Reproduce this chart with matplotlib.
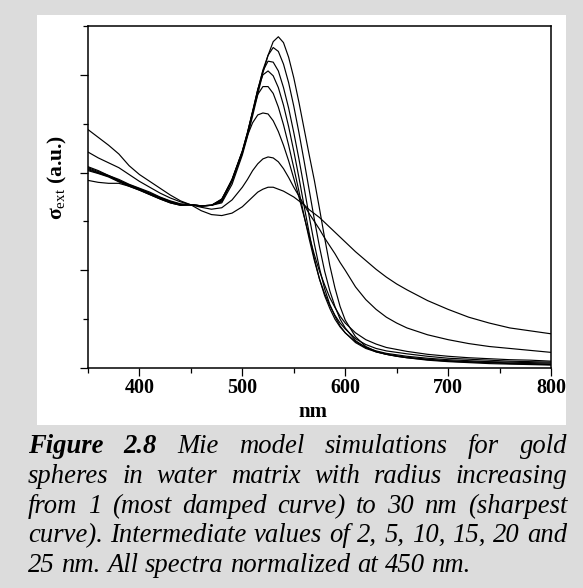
import matplotlib
matplotlib.use('Agg')
import matplotlib.pyplot as plt
from matplotlib.patches import Rectangle
from matplotlib.ticker import MultipleLocator

plt.rcParams['font.family'] = ['Liberation Serif', 'DejaVu Serif']
plt.rcParams['mathtext.fontset'] = 'custom'
plt.rcParams['mathtext.rm'] = 'Liberation Serif'
plt.rcParams['mathtext.bf'] = 'Liberation Serif:bold'
plt.rcParams['mathtext.it'] = 'Liberation Serif:italic'

# ---------------- data ----------------
wavelength = [350, 360, 370, 380, 390, 400, 410, 420, 430, 440, 450, 460, 470, 480, 490, 500,
              505, 510, 515, 520, 525, 530, 535, 540, 545, 550, 555, 560, 565, 570, 575, 580,
              585, 590, 595, 600, 610, 620, 630, 640, 650, 660, 680, 700, 720, 740, 760, 780, 800]

r1nm = [2.44, 2.36, 2.28, 2.19, 2.07, 1.98, 1.91, 1.84, 1.77, 1.71, 1.67, 1.61, 1.57, 1.56, 1.585, 1.65,
        1.70, 1.75, 1.80, 1.83, 1.85, 1.85, 1.83, 1.81, 1.78, 1.75, 1.71, 1.67, 1.62, 1.58, 1.54, 1.49,
        1.44, 1.39, 1.34, 1.29, 1.19, 1.10, 1.01, 0.93, 0.86, 0.80, 0.69, 0.60, 0.52, 0.46, 0.41, 0.38, 0.35]
r2nm = [2.21, 2.15, 2.10, 2.05, 1.98, 1.91, 1.85, 1.79, 1.74, 1.70, 1.67, 1.645, 1.625, 1.64, 1.72, 1.85,
        1.93, 2.02, 2.09, 2.14, 2.16, 2.15, 2.11, 2.04, 1.95, 1.85, 1.76, 1.67, 1.58, 1.50, 1.42, 1.33,
        1.25, 1.17, 1.08, 1.00, 0.83, 0.70, 0.60, 0.52, 0.46, 0.41, 0.34, 0.29, 0.25, 0.22, 0.20, 0.18, 0.16]
r5nm = [2.06, 2.02, 1.97, 1.93, 1.88, 1.84, 1.80, 1.75, 1.71, 1.68, 1.67, 1.655, 1.665, 1.73, 1.92, 2.21,
        2.38, 2.51, 2.59, 2.61, 2.60, 2.53, 2.42, 2.28, 2.12, 1.94, 1.75, 1.55, 1.35, 1.16, 0.99, 0.85,
        0.72, 0.62, 0.53, 0.46, 0.36, 0.29, 0.245, 0.21, 0.19, 0.17, 0.14, 0.12, 0.105, 0.095, 0.085, 0.08, 0.07]
r10nm = [2.05, 2.01, 1.97, 1.92, 1.875, 1.835, 1.79, 1.745, 1.705, 1.675, 1.67, 1.66, 1.665, 1.725, 1.93, 2.22,
         2.41, 2.62, 2.80, 2.88, 2.88, 2.81, 2.67, 2.49, 2.28, 2.05, 1.81, 1.56, 1.32, 1.10, 0.91, 0.76,
         0.64, 0.54, 0.46, 0.40, 0.30, 0.24, 0.20, 0.175, 0.16, 0.145, 0.12, 0.10, 0.09, 0.08, 0.07, 0.065, 0.06]
r15nm = [2.04, 2.00, 1.965, 1.915, 1.87, 1.83, 1.785, 1.74, 1.70, 1.67, 1.67, 1.66, 1.665, 1.72, 1.93, 2.22,
         2.41, 2.63, 2.85, 3.00, 3.04, 2.99, 2.87, 2.69, 2.47, 2.22, 1.95, 1.66, 1.38, 1.12, 0.91, 0.74,
         0.61, 0.50, 0.42, 0.36, 0.27, 0.21, 0.175, 0.15, 0.135, 0.12, 0.10, 0.085, 0.075, 0.065, 0.06, 0.055, 0.05]
r20nm = [2.03, 1.995, 1.96, 1.91, 1.865, 1.825, 1.78, 1.735, 1.695, 1.67, 1.67, 1.66, 1.665, 1.71, 1.92, 2.21,
         2.40, 2.62, 2.85, 3.04, 3.14, 3.13, 3.04, 2.87, 2.66, 2.41, 2.14, 1.85, 1.55, 1.27, 1.02, 0.81,
         0.65, 0.53, 0.43, 0.36, 0.26, 0.20, 0.165, 0.14, 0.125, 0.11, 0.09, 0.075, 0.065, 0.06, 0.05, 0.045, 0.04]
r25nm = [2.02, 1.99, 1.955, 1.905, 1.86, 1.82, 1.775, 1.73, 1.69, 1.665, 1.67, 1.66, 1.665, 1.70, 1.91, 2.20,
         2.39, 2.61, 2.84, 3.05, 3.20, 3.28, 3.24, 3.11, 2.92, 2.68, 2.41, 2.12, 1.82, 1.52, 1.24, 0.99,
         0.79, 0.63, 0.50, 0.41, 0.28, 0.21, 0.165, 0.14, 0.12, 0.105, 0.085, 0.07, 0.06, 0.055, 0.045, 0.04, 0.035]
r30nm = [1.92, 1.90, 1.89, 1.89, 1.86, 1.82, 1.775, 1.73, 1.69, 1.665, 1.67, 1.66, 1.665, 1.69, 1.88, 2.18,
         2.37, 2.58, 2.80, 3.02, 3.20, 3.34, 3.39, 3.33, 3.18, 2.97, 2.72, 2.45, 2.18, 1.92, 1.63, 1.33,
         1.05, 0.82, 0.63, 0.49, 0.32, 0.22, 0.17, 0.14, 0.12, 0.105, 0.08, 0.065, 0.055, 0.045, 0.04, 0.035, 0.03]

series = [r1nm, r2nm, r5nm, r10nm, r15nm, r20nm, r25nm, r30nm]

xlabel = 'nm'
ylabel = r'$\mathbf{\sigma}_{\mathrm{ext}}$ (a.u.)'
caption_lines = [
    [('Figure', 'bold'), ('2.8', 'bold'), ('Mie', 'normal'), ('model', 'normal'),
     ('simulations', 'normal'), ('for', 'normal'), ('gold', 'normal')],
    'spheres in water matrix with radius increasing',
    'from 1 (most damped curve) to 30 nm (sharpest',
    'curve). Intermediate values of 2, 5, 10, 15, 20 and',
    '25 nm. All spectra normalized at 450 nm.',
]

# ---------------- figure ----------------
W, H = 583, 588
fig = plt.figure(figsize=(W / 100, H / 100), dpi=100, facecolor='#dcdcdc')
fig.patches.append(Rectangle((37 / W, 1 - 425 / H), (566 - 37) / W, (425 - 15) / H,
                             transform=fig.transFigure, facecolor='white',
                             edgecolor='none', zorder=-5))

ax = fig.add_axes([88 / W, 1 - 368 / H, (551 - 88) / W, (368 - 26) / H])
ax.set_zorder(2)
ax.set_facecolor('white')
for s in series:
    ax.plot(wavelength, s, color='black', lw=0.85)

ax.set_xlim(350, 800)
ax.set_ylim(0, 3.5)
ax.xaxis.set_major_locator(MultipleLocator(100))
ax.xaxis.set_minor_locator(MultipleLocator(50))
ax.yaxis.set_major_locator(MultipleLocator(1))
ax.yaxis.set_minor_locator(MultipleLocator(0.5))
ax.tick_params(axis='y', labelleft=False)
ax.tick_params(which='both', direction='out', top=False, right=False, width=0.9)
ax.tick_params(which='major', length=6, pad=1.5)
ax.tick_params(which='minor', length=3.5)
for sp in ax.spines.values():
    sp.set_linewidth(1.1)
for lab in ax.get_xticklabels():
    lab.set_fontweight('bold')
    lab.set_fontsize(14.5)

fig.text(313 / W, 1 - 417 / H, xlabel, ha='center', va='baseline',
         fontweight='bold', fontsize=15, zorder=3)
fig.text(57 / W, 1 - 178 / H, ylabel, rotation=90, ha='center', va='center',
         fontweight='bold', fontsize=15.5, zorder=3)

# ---------------- caption (justified) ----------------
renderer = fig.canvas.get_renderer()
left_px, right_px = 28, 567
baselines = [453, 483, 513, 542, 572]

probe = fig.text(0, 0, caption_lines[-1], fontsize=18, fontstyle='italic')
w18 = probe.get_window_extent(renderer).width
probe.remove()
cap_size = 18 * 442 / w18

for i, line in enumerate(caption_lines):
    if isinstance(line, str):
        words = [(w, 'normal') for w in line.split(' ')]
    else:
        words = line
    texts = []
    for w, weight in words:
        t = fig.text(0, 1 - baselines[i] / H, w, fontsize=cap_size, fontstyle='italic',
                     fontweight=weight, ha='left', va='baseline', zorder=3)
        texts.append(t)
    widths = [t.get_window_extent(renderer).width for t in texts]
    last = (i == len(caption_lines) - 1)
    if last:
        gap = 0.25 * cap_size * 100 / 72
    else:
        gap = (right_px - left_px - sum(widths)) / (len(widths) - 1)
    x = left_px
    for t, wd in zip(texts, widths):
        t.set_x(x / W)
        x += wd + gap

fig.savefig('out.png', dpi=100, facecolor=fig.get_facecolor())
